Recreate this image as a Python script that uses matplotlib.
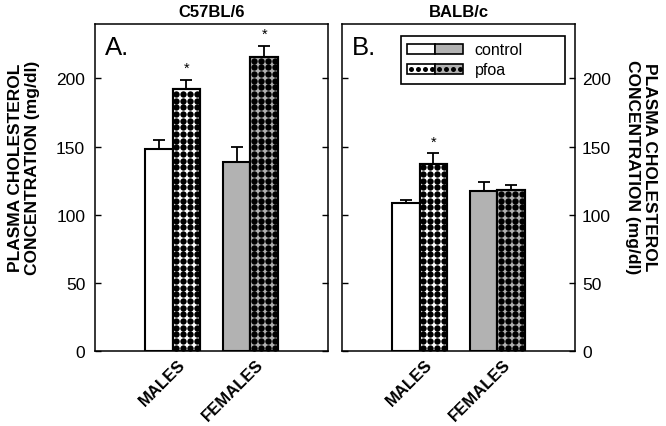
import numpy as np
import matplotlib
matplotlib.use('Agg')
import matplotlib.pyplot as plt
import matplotlib.transforms as mtransforms
from matplotlib.patches import Rectangle
from matplotlib.lines import Line2D
from matplotlib.legend_handler import HandlerBase

plt.rcParams['font.family'] = ['Liberation Sans', 'DejaVu Sans']

BLACK = "#000000"
WHITE = "#FFFFFF"
GRAY  = "#B2B2B2"

# ── Data (mg/dl, mean and upper SE) ───────────────────────────────────────────
sexes   = ['MALES', 'FEMALES']
strains = ['C57BL/6', 'BALB/c']
panels  = ['A.', 'B.']

c57_control     = [148.0, 139.0]
c57_control_err = [7.0, 10.5]
c57_pfoa        = [192.5, 216.0]
c57_pfoa_err    = [6.5, 8.0]

balb_control     = [108.5, 117.5]
balb_control_err = [2.0, 6.5]
balb_pfoa        = [137.0, 118.5]
balb_pfoa_err    = [8.0, 3.5]

# significance star over the pfoa bar
c57_star  = [True, True]
balb_star = [True, False]

yticks = [0, 50, 100, 150, 200]

# ── Figure ────────────────────────────────────────────────────────────────────
fig = plt.figure(figsize=(6.66, 4.27), dpi=100)
fig.patch.set_facecolor(WHITE)
axA = fig.add_axes([0.1426, 0.1756, 0.350, 0.766])
axB = fig.add_axes([0.5135, 0.1756, 0.350, 0.766])

BAR_W = 0.355
ROW_DY = 4.9


def add_dots(ax, bar):
    x0, w, h = bar.get_x(), bar.get_width(), bar.get_height()
    xs = x0 + (np.arange(4) + 0.5) * w / 4
    ys = np.arange(ROW_DY / 2, h, ROW_DY)
    gx, gy = np.meshgrid(xs, ys)
    dots = ax.scatter(gx.ravel(), gy.ravel(), s=21, marker='o',
                      color=BLACK, linewidths=0, zorder=3)
    dots.set_clip_path(bar)


def draw_panel(ax, control, control_err, pfoa, pfoa_err, stars):
    x = np.arange(1, len(sexes) + 1)
    ctrl_colors = [WHITE, GRAY]
    ax.bar(x - BAR_W / 2, control, BAR_W, color=ctrl_colors,
           edgecolor=BLACK, linewidth=1.5, zorder=2)
    bars_p = ax.bar(x + BAR_W / 2, pfoa, BAR_W, color=ctrl_colors,
                    edgecolor=BLACK, linewidth=1.5, zorder=2)
    for b in bars_p:
        add_dots(ax, b)
    # redraw the pfoa outlines above the dots
    ax.bar(x + BAR_W / 2, pfoa, BAR_W, fill=False,
           edgecolor=BLACK, linewidth=1.5, zorder=4)
    ax.errorbar(x - BAR_W / 2, control, yerr=[np.zeros(len(x)), control_err],
                fmt='none', ecolor=BLACK, elinewidth=1.3, capsize=4.5,
                capthick=1.3, zorder=1)
    ax.errorbar(x + BAR_W / 2, pfoa, yerr=[np.zeros(len(x)), pfoa_err],
                fmt='none', ecolor=BLACK, elinewidth=1.3, capsize=4.5,
                capthick=1.3, zorder=1)
    for xi, v, e, s in zip(x, pfoa, pfoa_err, stars):
        if s:
            ax.text(xi + BAR_W / 2, v + e + 8.5, '*', ha='center',
                    va='center', fontsize=10.5)

    ax.set_xlim(0, 3)
    ax.set_ylim(0, 240)
    ax.set_yticks(yticks)
    ax.set_xticks(x)
    ax.set_xticklabels([])
    # rotated category labels, nudged right of the group centre
    lab_trans = ax.get_xaxis_transform() + mtransforms.ScaledTranslation(
        0.05, -0.055, fig.dpi_scale_trans)
    for xi, name in zip(x, sexes):
        ax.text(xi, 0, name, transform=lab_trans, rotation=45, ha='right',
                va='top', rotation_mode='anchor', fontsize=12,
                fontweight='bold')
    ax.tick_params(axis='x', length=0)
    ax.tick_params(axis='y', direction='in', length=4, width=1,
                   labelsize=12.5, left=True, right=True)
    for sp in ax.spines.values():
        sp.set_linewidth(1.1)


draw_panel(axA, c57_control, c57_control_err, c57_pfoa, c57_pfoa_err, c57_star)
draw_panel(axB, balb_control, balb_control_err, balb_pfoa, balb_pfoa_err, balb_star)

axA.tick_params(axis='y', labelleft=True, labelright=False, pad=7)
axB.tick_params(axis='y', labelleft=False, labelright=True, pad=5)

YLABEL = 'PLASMA CHOLESTEROL\nCONCENTRATION (mg/dl)'
axA.set_ylabel(YLABEL, fontsize=12.5, fontweight='bold', linespacing=1.2)
axA.yaxis.set_label_coords(-0.235, 0.564)
axB.yaxis.set_label_position('right')
axB.set_ylabel(YLABEL, fontsize=12.5, fontweight='bold', rotation=270,
               va='bottom', linespacing=1.2)
axB.yaxis.set_label_coords(1.212, 0.564)

for ax, strain, tag in zip([axA, axB], strains, panels):
    ax.set_title(strain, fontsize=12, fontweight='bold', pad=6)
    ax.text(0.043, 0.965, tag, transform=ax.transAxes, ha='left', va='top',
            fontsize=18.5)


# ── Legend with split swatches ────────────────────────────────────────────────
class PairSwatch:
    def __init__(self, colors, dotted):
        self.colors = colors
        self.dotted = dotted


class PairHandler(HandlerBase):
    def create_artists(self, legend, orig_handle, xdescent, ydescent,
                       width, height, fontsize, trans):
        artists = []
        half = width / 2
        for i, fc in enumerate(orig_handle.colors):
            x0 = -xdescent + i * half
            artists.append(Rectangle((x0, -ydescent), half, height,
                                     facecolor=fc, edgecolor=BLACK,
                                     linewidth=1.2, transform=trans))
            if orig_handle.dotted:
                xs = x0 + (np.arange(4) + 0.5) * half / 4
                ys = np.full(4, -ydescent + height / 2)
                artists.append(Line2D(xs, ys, linestyle='none', marker='o',
                                      markersize=3.6, markerfacecolor=BLACK,
                                      markeredgecolor='none', transform=trans))
        return artists


handles = [PairSwatch([WHITE, GRAY], False), PairSwatch([WHITE, GRAY], True)]
leg = axB.legend(handles, ['control', 'pfoa'],
                 handler_map={PairSwatch: PairHandler()},
                 loc='upper left', bbox_to_anchor=(0.253, 0.817, 0.704, 0.146),
                 mode='expand', borderaxespad=0, fontsize=11.5,
                 handlelength=3.5, handleheight=0.6, handletextpad=0.7,
                 labelspacing=0.3, borderpad=0.4, fancybox=False,
                 framealpha=1, edgecolor=BLACK)
leg.get_frame().set_linewidth(1.2)

plt.savefig('out.png', dpi=100, facecolor=WHITE)
